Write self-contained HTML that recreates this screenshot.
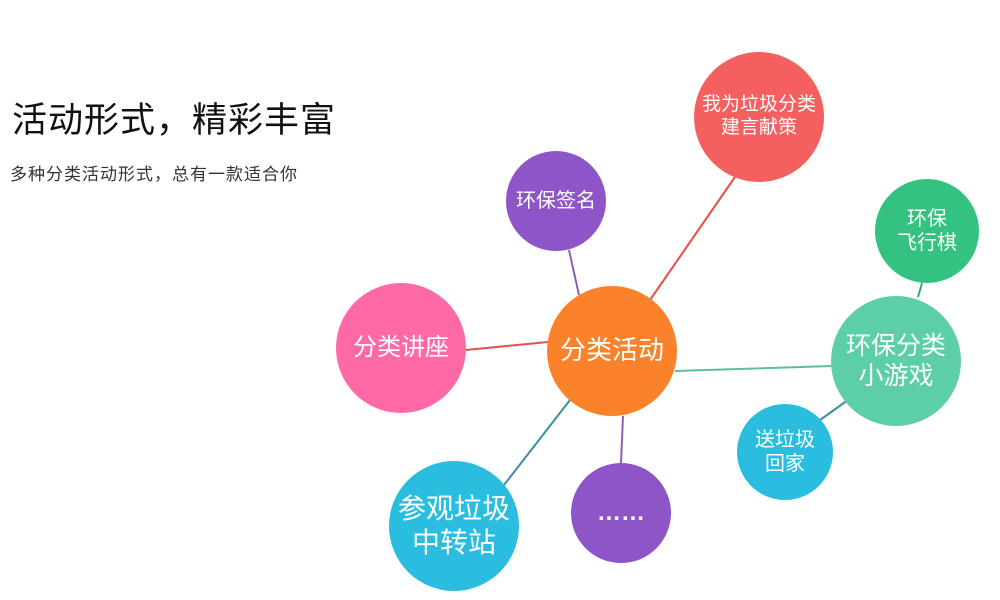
<!DOCTYPE html>
<html><head><meta charset="utf-8"><style>
body{margin:0;background:#fff;width:1000px;height:600px;overflow:hidden;position:relative;font-family:"Liberation Sans","Noto Sans CJK SC",sans-serif}
.c{position:absolute;border-radius:50%;display:flex;align-items:center;justify-content:center;text-align:center;color:#fff;line-height:1.2}
</style></head><body>
<div style="position:absolute;left:12px;top:92px;font-size:35px;color:#111;letter-spacing:1px">活动形式，精彩丰富</div>
<div style="position:absolute;left:10px;top:160px;font-size:17px;color:#333;letter-spacing:1px">多种分类活动形式，总有一款适合你</div>
<svg width="1000" height="600" style="position:absolute;left:0;top:0">
<line x1="650" y1="300" x2="735" y2="177" stroke="#e84c4c" stroke-width="2"/>
<line x1="579" y1="295" x2="569" y2="250" stroke="#8e5fb0" stroke-width="2"/>
<line x1="466" y1="350" x2="548" y2="342" stroke="#e84c4c" stroke-width="2"/>
<line x1="504" y1="485" x2="570" y2="400" stroke="#3a8fa0" stroke-width="2"/>
<line x1="621" y1="463" x2="623" y2="416" stroke="#8e5fb0" stroke-width="2"/>
<line x1="675" y1="371" x2="832" y2="366" stroke="#5cbf98" stroke-width="2"/>
<line x1="918" y1="297" x2="922" y2="283" stroke="#3aa67a" stroke-width="2"/>
<line x1="820" y1="420" x2="855" y2="395" stroke="#3a8fa0" stroke-width="2"/>
</svg>
<div class="c" style="left:547px;top:286px;width:130px;height:130px;background:#f9822b;font-size:26px">分类活动</div>
<div class="c" style="left:694px;top:52px;width:130px;height:130px;background:#f46060;font-size:19px">我为垃圾分类<br>建言献策</div>
<div class="c" style="left:506px;top:151px;width:100px;height:100px;background:#8e55c9;font-size:20px">环保签名</div>
<div class="c" style="left:875px;top:179px;width:104px;height:104px;background:#33c27f;font-size:20px">环保<br>飞行棋</div>
<div class="c" style="left:831px;top:296px;width:130px;height:130px;background:#5ccea8;font-size:25px">环保分类<br>小游戏</div>
<div class="c" style="left:737px;top:404px;width:96px;height:96px;background:#2bbde0;font-size:20px">送垃圾<br>回家</div>
<div class="c" style="left:336px;top:283px;width:130px;height:130px;background:#ff69a6;font-size:24px">分类讲座</div>
<div class="c" style="left:389px;top:461px;width:130px;height:130px;background:#2bbde0;font-size:28px">参观垃圾<br>中转站</div>
<div class="c" style="left:571px;top:463px;width:100px;height:100px;background:#8e55c9;font-size:24px;font-weight:bold">……</div>
</body></html>
